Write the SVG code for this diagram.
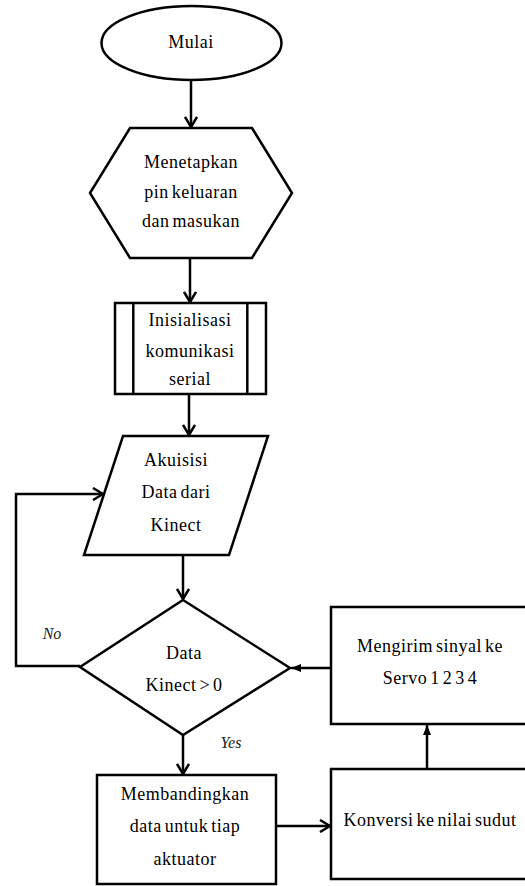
<svg xmlns="http://www.w3.org/2000/svg" width="525" height="886" viewBox="0 0 525 886">
<defs>
<style>
.s{fill:#fff;stroke:#000;stroke-width:2.5}
.c{fill:none;stroke:#000;stroke-width:2.5}
.t{font-family:"Liberation Serif","Times New Roman",serif;font-size:18px;letter-spacing:0.5px;word-spacing:-2px;fill:#000;text-anchor:middle}
.i{font-family:"Liberation Serif","Times New Roman",serif;font-size:16px;font-style:italic;fill:#222;text-anchor:middle}
</style>
<marker id="v" viewBox="0 0 12 14" refX="11" refY="7" markerWidth="12" markerHeight="14" markerUnits="userSpaceOnUse" orient="auto">
<path d="M1,1 L11,7 L1,13" fill="none" stroke="#000" stroke-width="2.5"/>
</marker>
<marker id="f" viewBox="0 0 10 8" refX="10" refY="4" markerWidth="10" markerHeight="8" markerUnits="userSpaceOnUse" orient="auto">
<path d="M0,0 L10,4 L0,8 Z" fill="#000"/>
</marker>
</defs>
<rect width="525" height="886" fill="#fff"/>
<g id="connectors">
<path class="c" d="M191,80 V127" marker-end="url(#v)"/>
<path class="c" d="M190,258 V302" marker-end="url(#v)"/>
<path class="c" d="M189,394 V435" marker-end="url(#v)"/>
<path class="c" d="M183,555 V599" marker-end="url(#v)"/>
<path class="c" d="M80,666 H16 V494 H103" marker-end="url(#v)"/>
<path class="c" d="M183,735 V774" marker-end="url(#v)"/>
<path class="c" d="M276,826 H330" marker-end="url(#v)"/>
<path class="c" d="M427,769 V725" marker-end="url(#f)"/>
<path class="c" d="M331,668 H291" marker-end="url(#f)"/>
<text class="i" x="52" y="639">No</text>
<text class="i" x="231" y="748">Yes</text>
</g>
<g id="start">
<ellipse class="s" cx="191.5" cy="43" rx="90" ry="37"/>
<text class="t" x="191" y="48">Mulai</text>
</g>
<g id="prep">
<polygon class="s" points="130,128 252,128 292,193 252,258 130,258 90,193"/>
<text class="t" x="191" y="168">Menetapkan</text>
<text class="t" x="191" y="198">pin keluaran</text>
<text class="t" x="191" y="227">dan masukan</text>
</g>
<g id="init">
<rect class="s" x="115" y="303" width="151" height="91"/>
<line class="c" x1="133.3" y1="303" x2="133.3" y2="394"/>
<line class="c" x1="247.3" y1="303" x2="247.3" y2="394"/>
<text class="t" x="190" y="326">Inisialisasi</text>
<text class="t" x="190" y="356.5">komunikasi</text>
<text class="t" x="190" y="385">serial</text>
</g>
<g id="input">
<polygon class="s" points="123,436 268,436 229,555 84,555"/>
<text class="t" x="176" y="466">Akuisisi</text>
<text class="t" x="176" y="498">Data dari</text>
<text class="t" x="176" y="530.5">Kinect</text>
</g>
<g id="decision">
<polygon class="s" points="183,600 290,668 183,735 80,667"/>
<text class="t" x="184" y="659">Data</text>
<text class="t" x="184" y="691">Kinect &gt; 0</text>
</g>
<g id="compare">
<rect class="s" x="97" y="775" width="179" height="109"/>
<text class="t" x="185" y="800">Membandingkan</text>
<text class="t" x="185" y="832">data untuk tiap</text>
<text class="t" x="185" y="865">aktuator</text>
</g>
<g id="convert">
<rect class="s" x="331" y="769" width="200" height="110"/>
<text class="t" x="430" y="825.5">Konversi ke nilai sudut</text>
</g>
<g id="send">
<rect class="s" x="331" y="607" width="200" height="117"/>
<text class="t" x="430" y="652">Mengirim sinyal ke</text>
<text class="t" x="430" y="684">Servo 1 2 3 4</text>
</g>
</svg>
